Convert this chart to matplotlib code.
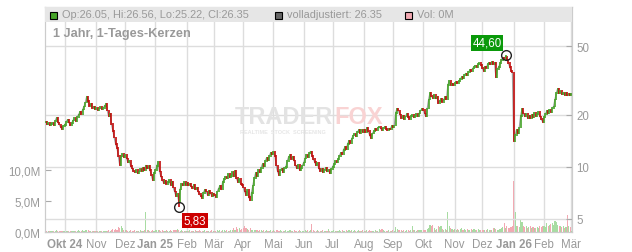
import matplotlib.pyplot as plt
from matplotlib.patches import Rectangle
import numpy as np
import pandas as pd

plt.rcParams['font.family'] = ['Liberation Sans', 'DejaVu Sans']

# daily closes per month
close_sep24 = [18.2, 17.6, 17.9, 17.4, 17.8, 18.0, 17.5, 18.4, 19.3, 18.1, 17.6, 17.0, 16.6, 17.3]
close_oct24 = [17.5, 18.3, 18.8, 18.1, 17.4, 17.9, 18.6, 19.2, 18.5, 19.4, 20.1, 20.8, 20.3, 21.5, 22.4, 23.6,
               25.6, 24.2, 22.6, 23.1, 21.9, 22.4, 21.6]
close_nov24 = [22.0, 21.4, 21.8, 22.3, 21.6, 21.9, 22.6, 23.1, 21.2, 19.6, 20.4, 17.8, 16.2, 14.8, 13.6, 12.9,
               11.6, 10.3, 11.5, 11.9, 11.4]
close_dec24 = [11.8, 11.2, 10.6, 10.9, 10.1, 9.8, 9.5, 9.3, 9.6, 9.2, 9.4, 9.7, 9.5, 9.9, 9.6, 10.2, 9.8, 10.1,
               9.6, 9.0, 8.4, 9.2]
close_jan25 = [9.6, 10.1, 10.7, 9.4, 8.8, 8.4, 8.1, 8.3, 8.0, 8.2, 8.4, 7.9, 8.2, 7.6, 7.2, 6.8, 7.0, 6.3, 7.4,
               8.0, 7.8, 8.2, 7.9]
close_feb25 = [8.1, 7.8, 8.0, 7.7, 7.5, 7.9, 7.4, 7.6, 7.2, 7.0, 6.8, 6.6, 7.1, 7.4, 7.2, 6.9, 7.3, 7.1, 6.8, 7.0]
close_mar25 = [6.9, 6.7, 7.2, 7.5, 7.8, 7.4, 8.2, 8.5, 8.8, 8.6, 9.1, 8.7, 8.9, 9.3, 8.8, 9.5, 8.6, 8.2, 8.5,
               8.0, 7.9]
close_apr25 = [7.6, 7.2, 6.9, 7.4, 6.7, 6.4, 7.1, 7.8, 8.6, 9.2, 8.9, 9.6, 9.3, 9.9, 10.4, 10.1, 10.8, 11.3,
               10.9, 11.6, 12.1, 11.8]
close_may25 = [12.3, 11.6, 10.2, 9.4, 9.0, 9.6, 9.8, 9.3, 9.9, 10.0, 10.8, 11.4, 11.7, 11.1, 11.5, 10.9, 10.2,
               9.8, 10.3, 9.6, 9.9, 10.2]
close_jun25 = [10.6, 11.2, 11.8, 11.4, 12.0, 12.3, 11.6, 11.1, 10.7, 10.2, 10.5, 9.8, 9.5, 9.7, 9.3, 9.6, 9.9,
               9.4, 9.6, 9.2, 9.7]
close_jul25 = [10.0, 10.4, 10.8, 10.6, 11.1, 11.6, 12.1, 11.8, 12.6, 13.0, 12.7, 13.6, 14.2, 13.8, 14.6, 15.2,
               15.6, 15.1, 15.9, 16.3, 15.8, 16.4, 16.0]
close_aug25 = [16.5, 15.9, 16.8, 16.2, 15.3, 14.7, 15.6, 16.1, 16.6, 16.4, 16.9, 17.1, 16.7, 16.4, 16.8, 17.0,
               16.6, 16.3, 16.7, 16.5, 17.2]
close_sep25 = [17.0, 17.4, 20.6, 21.8, 21.2, 20.1, 19.2, 19.8, 18.9, 19.6, 20.2, 19.5, 19.0, 19.7, 20.0, 19.4,
               19.8, 20.3, 19.6, 20.4, 21.2, 21.6]
close_oct25 = [21.3, 20.4, 19.6, 21.8, 24.6, 26.8, 25.7, 25.1, 26.2, 24.9, 25.5, 23.4, 24.1, 24.8, 23.9, 24.6,
               25.3, 24.7, 29.8, 31.6, 29.9, 30.4, 29.7]
close_nov25 = [30.6, 31.0, 30.6, 31.4, 32.3, 33.1, 32.6, 34.0, 34.8, 34.2, 35.5, 36.3, 35.8, 37.2, 37.9, 38.6,
               38.0, 39.3, 39.8, 38.9]
close_dec25 = [37.4, 36.1, 38.2, 37.6, 39.4, 40.1, 39.2, 40.4, 39.6, 40.2, 33.0, 37.0, 37.8, 39.8, 41.6, 42.8,
               41.9, 43.6, 41.8, 40.2, 38.1, 36.0, 35.2]
close_jan26 = [14.2, 15.3, 16.4, 15.8, 16.9, 19.8, 21.6, 20.4, 19.6, 20.2, 19.3, 19.8, 19.1, 20.0, 19.4, 20.6,
               19.7, 20.3, 20.9, 19.6, 18.9, 18.3]
close_feb26 = [19.4, 20.3, 21.0, 20.6, 21.4, 20.8, 21.9, 22.4, 24.6, 26.8, 28.4, 26.9, 27.5, 26.3, 27.0, 26.1,
               26.8, 25.9, 26.6, 26.05]
close_mar26 = [26.35]

# daily volume per month, in 100k shares
vol_sep24 = [3, 2, 2, 1, 2, 2, 1, 2, 3, 2, 1, 2, 2, 1]
vol_oct24 = [2, 1, 2, 2, 1, 2, 2, 1, 2, 2, 3, 2, 2, 3, 2, 3, 4, 3, 2, 2, 1, 2, 2]
vol_nov24 = [2, 1, 2, 2, 1, 2, 1, 2, 2, 3, 2, 4, 5, 4, 5, 4, 8, 6, 10, 7, 4]
vol_dec24 = [3, 3, 2, 2, 3, 2, 2, 3, 2, 2, 2, 3, 2, 2, 3, 33, 4, 3, 2, 2, 3, 2]
vol_jan25 = [3, 4, 3, 3, 2, 3, 2, 2, 3, 2, 2, 3, 2, 3, 4, 3, 5, 3, 2, 3, 2, 2, 2]
vol_feb25 = [2, 2, 3, 2, 2, 2, 3, 2, 2, 3, 2, 2, 2, 3, 2, 2, 2, 2, 3, 2]
vol_mar25 = [2, 2, 3, 2, 3, 2, 3, 3, 2, 3, 2, 2, 3, 4, 6, 4, 8, 5, 6, 4, 5]
vol_apr25 = [7, 9, 6, 5, 4, 6, 4, 3, 3, 4, 3, 2, 3, 3, 2, 3, 2, 3, 2, 2, 3, 2]
vol_may25 = [3, 2, 4, 3, 2, 3, 2, 2, 2, 3, 2, 2, 3, 2, 2, 3, 2, 2, 2, 3, 2, 2]
vol_jun25 = [2, 3, 2, 3, 2, 4, 13, 3, 2, 2, 3, 2, 2, 2, 3, 2, 2, 2, 5, 2, 2]
vol_jul25 = [2, 3, 2, 2, 2, 3, 2, 3, 2, 2, 3, 2, 3, 2, 3, 2, 3, 2, 2, 3, 2, 2, 3]
vol_aug25 = [2, 2, 3, 2, 3, 2, 2, 2, 3, 2, 2, 5, 4, 5, 3, 2, 2, 2, 3, 2, 2]
vol_sep25 = [3, 2, 8, 5, 3, 4, 3, 2, 3, 2, 3, 3, 2, 3, 10, 4, 3, 2, 3, 4, 3, 4]
vol_oct25 = [4, 3, 4, 5, 7, 11, 9, 11, 6, 4, 5, 10, 8, 10, 5, 4, 5, 4, 33, 10, 7, 5, 4]
vol_nov25 = [5, 4, 5, 4, 5, 6, 4, 5, 4, 5, 4, 4, 5, 4, 5, 4, 4, 5, 4, 4]
vol_dec25 = [4, 4, 3, 4, 5, 4, 3, 4, 6, 7, 5, 4, 4, 5, 6, 8, 15, 6, 9, 7, 6, 8, 10]
vol_jan26 = [83, 33, 10, 9, 8, 20, 16, 10, 8, 9, 7, 8, 9, 7, 8, 6, 7, 8, 7, 9, 8, 10]
vol_feb26 = [9, 8, 14, 10, 12, 13, 15, 12, 17, 16, 12, 10, 9, 8, 10, 7, 8, 28, 9, 8]
vol_mar26 = [1]

low_day, low_val = "2025-01-24", 5.83
high_day, high_val = "2025-12-24", 44.60

month_names = ["Jan", "Feb", "Mär", "Apr", "Mai", "Jun", "Jul", "Aug", "Sep", "Okt", "Nov", "Dez"]
price_ticks = [5, 10, 20, 50]
vol_ticks = [0, 5, 10]
vol_labels = ["0,0M", "5,0M", "10,0M"]

close = np.concatenate([close_sep24, close_oct24, close_nov24, close_dec24, close_jan25, close_feb25,
                        close_mar25, close_apr25, close_may25, close_jun25, close_jul25, close_aug25,
                        close_sep25, close_oct25, close_nov25, close_dec25, close_jan26, close_feb26,
                        close_mar26])
vol = np.concatenate([vol_sep24, vol_oct24, vol_nov24, vol_dec24, vol_jan25, vol_feb25, vol_mar25,
                      vol_apr25, vol_may25, vol_jun25, vol_jul25, vol_aug25, vol_sep25, vol_oct25,
                      vol_nov25, vol_dec25, vol_jan26, vol_feb26, vol_mar26]) / 10.0
dates = pd.bdate_range("2024-09-11", periods=len(close))
x = np.arange(len(close))
opens = np.r_[close[0], close[:-1]]
up = close >= opens

green = "#45a428"
red = "#c10b0b"
grey = "#999999"

fig = plt.figure(figsize=(6.32, 2.53), dpi=100)
W, H = 632, 253
L, R, T, B = 45, 572, 8, 233
ax = fig.add_axes([L / W, (H - B) / H, (R - L) / W, (B - T) / H])
ax2 = ax.twinx()

# volume
ax.bar(x, vol, width=0.8, color=np.where(up, "#a8dca2", "#f2a9b2"), linewidth=0, zorder=2)
ax.set_ylim(0, 36.3)
ax.set_xlim(-0.4, len(close) - 0.6)

# month grid + labels
mstart = [i for i in range(1, len(dates)) if dates[i].month != dates[i - 1].month]
labels = []
for i in mstart:
    d = dates[i]
    name = month_names[d.month - 1]
    if d.month == 1 or i == mstart[0]:
        name += " %02d" % (d.year % 100)
    labels.append(name)
for i in mstart:
    ax.axvline(i, color="#dddddd", lw=1, zorder=0)
ax.set_xticks(mstart)
ax.set_xticklabels(labels)
for i, t in zip(mstart, ax.get_xticklabels()):
    if dates[i].month == 1 or i == mstart[0]:
        t.set_fontweight("bold")
ax.tick_params(axis="x", length=0, pad=4, labelsize=8.3, labelcolor=grey)

ax.set_yticks(vol_ticks)
ax.set_yticklabels(vol_labels)
ax.tick_params(axis="y", direction="in", length=4, color="#aaaaaa", labelsize=8.3, labelcolor=grey, pad=3)

# price
ax2.set_yscale("log")
ax2.set_ylim(4.2, 84.4)
for p in price_ticks:
    ax2.axhline(p, color="#dddddd", lw=1, zorder=0)
lo = np.minimum(opens, close) / 1.012
hi = np.maximum(opens, close) * 1.012
ax2.plot(x, close, color="#a0a0a0", lw=0.9, zorder=2)
ax2.vlines(x, lo, hi, colors=np.where(up, green, red), lw=1.2, zorder=3)

li = dates.get_loc(pd.Timestamp(low_day))
hi_i = dates.get_loc(pd.Timestamp(high_day))
ax2.vlines(li, low_val, close[li], color=red, lw=1.2, zorder=3)
ax2.vlines(hi_i, close[hi_i], high_val, color=green, lw=1.2, zorder=3)
ax2.plot([li, hi_i], [low_val, high_val], "o", mfc="none", mec="#222222", ms=7, mew=1, zorder=6)
ax2.annotate("5,83", (li, low_val), xytext=(5, -7), textcoords="offset pixels", ha="left", va="top",
             fontsize=8.3, color="white", zorder=7,
             bbox=dict(boxstyle="square,pad=0.15", fc="#cc0000", ec="none"))
ax2.annotate("44,60", (hi_i, high_val), xytext=(-4, 6), textcoords="offset pixels", ha="right",
             va="bottom", fontsize=8.3, color="white", zorder=7,
             bbox=dict(boxstyle="square,pad=0.15", fc="#0a990a", ec="none"))

ax2.set_yticks(price_ticks)
ax2.set_yticklabels([str(p) for p in price_ticks])
ax2.minorticks_off()
ax2.tick_params(axis="y", direction="in", length=4, color="#aaaaaa", labelsize=8.3, labelcolor=grey, pad=3)

for a in (ax, ax2):
    for s in a.spines.values():
        s.set_color("#cccccc")


def fx(px):
    return (px - L) / (R - L)


def fy(py):
    return (B - py) / (B - T)


# watermark
ax2.text(fx(333), fy(118), "TRADER", transform=ax2.transAxes, ha="right", va="center", fontsize=17,
         fontweight="bold", color="#e3e3e3", zorder=1)
ax2.text(fx(334), fy(118), "FOX", transform=ax2.transAxes, ha="left", va="center", fontsize=17,
         fontweight="bold", color="#f9d3d3", zorder=1)
ax2.text(fx(240), fy(133), "REALTIME  STOCK  SCREENING", transform=ax2.transAxes, ha="left", va="center",
         fontsize=4, fontweight="bold", color="#e6e6e6", zorder=1)

# header bar
ax2.add_patch(Rectangle((0, fy(22.7)), 1, fy(T) - fy(22.7), transform=ax2.transAxes, fc="#e6e6e6",
                        ec="none", zorder=8, clip_on=False))
for sx, fc in ((50, green), (275, "#666666"), (405, "#f2a9b2")):
    ax2.add_patch(Rectangle((fx(sx), fy(19.5)), 7 / (R - L), 7 / (B - T), transform=ax2.transAxes,
                            fc=fc, ec="black", lw=0.8, zorder=9, clip_on=False))
hy = fy(15.5)
ax2.text(fx(62), hy, "Op:26.05, Hi:26.56, Lo:25.22, Cl:26.35", transform=ax2.transAxes, va="center",
         fontsize=7.9, color=grey, zorder=9)
ax2.text(fx(287), hy, "volladjustiert: 26.35", transform=ax2.transAxes, va="center", fontsize=7.9,
         color=grey, zorder=9)
ax2.text(fx(417), hy, "Vol: 0M", transform=ax2.transAxes, va="center", fontsize=7.9, color=grey, zorder=9)
ax2.text(fx(53), fy(33.5), "1 Jahr, 1-Tages-Kerzen", transform=ax2.transAxes, va="center", fontsize=9.2,
         fontweight="bold", color=grey, zorder=9)

fig.savefig("out.png", dpi=100)
